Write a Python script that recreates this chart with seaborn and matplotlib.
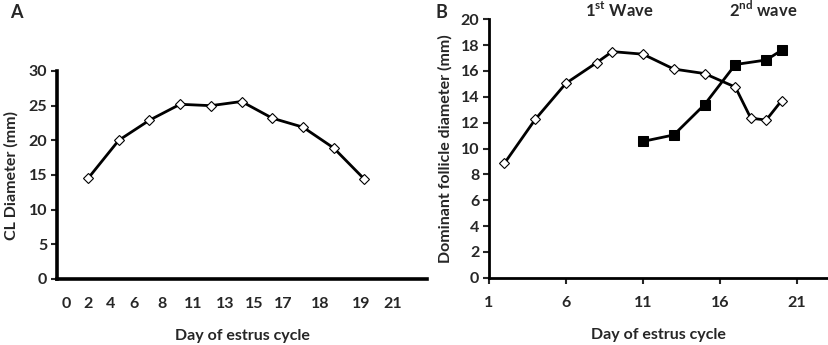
import matplotlib
matplotlib.use("Agg")
import matplotlib.pyplot as plt
import seaborn as sns

# panel A - CL diameter
a_diam = [14.5, 20.0, 22.9, 25.2, 25.0, 25.6, 23.2, 21.9, 18.9, 14.4]
a_ticklabels = ["0", "2", "4", "6", "8", "11", "13", "15", "17", "18", "19", "21"]
# where the (hand placed) labels sit, in point-index units
a_tickpos = [-0.72, 0, 0.75, 1.5, 2.41, 3.42, 4.46, 5.41, 6.35, 7.56, 8.89, 9.93]

# panel B - dominant follicle, two waves
b1_days = [2, 4, 6, 8, 9, 11, 13, 15, 17, 18, 19, 20]
b1_diam = [8.85, 12.25, 15.05, 16.65, 17.5, 17.3, 16.15, 15.8, 14.75, 12.35, 12.2, 13.7]
b2_days = [11, 13, 15, 17, 19, 20]
b2_diam = [10.55, 11.05, 13.4, 16.5, 16.85, 17.6]

sns.set_style("white")
plt.rcParams["font.family"] = ["Lato", "DejaVu Sans"]
plt.rcParams["font.weight"] = "bold"
plt.rcParams["mathtext.fontset"] = "custom"
plt.rcParams["mathtext.rm"] = "Lato:bold"
plt.rcParams["mathtext.bf"] = "Lato:bold"

W, H = 829, 345
fig = plt.figure(figsize=(W / 100, H / 100), dpi=100)

axA = fig.add_axes([57 / W, 66 / H, 370 / W, 208 / H])
axB = fig.add_axes([489 / W, 67.3 / H, 338 / W, 258.4 / H])

line_kw = dict(color="black", linewidth=2.0)

sns.lineplot(x=list(range(len(a_diam))), y=a_diam, ax=axA, marker="D",
             markersize=5, markerfacecolor="white", markeredgecolor="black",
             markeredgewidth=0.8, **line_kw)
axA.set_xlim(-1.01, 11.04)
axA.set_ylim(0, 30)
axA.set_yticks(range(0, 31, 5))
axA.set_xticks(a_tickpos)
axA.set_xticklabels(a_ticklabels)
axA.set_ylabel("CL Diameter (mm)", fontsize=11.5, fontweight="bold", labelpad=7)
axA.set_xlabel("Day of estrus cycle", fontsize=11.5, fontweight="bold", labelpad=13)

sns.lineplot(x=b1_days, y=b1_diam, ax=axB, marker="D", markersize=5,
             markerfacecolor="white", markeredgecolor="black",
             markeredgewidth=0.8, **line_kw)
sns.lineplot(x=b2_days, y=b2_diam, ax=axB, marker="s", markersize=6.5,
             markerfacecolor="black", markeredgecolor="black", **line_kw)
axB.set_xlim(1, 22.95)
axB.set_ylim(0, 20)
axB.set_yticks(range(0, 21, 2))
axB.set_xticks([1, 6, 11, 16, 21])
axB.set_ylabel("Dominant follicle diameter (mm)", fontsize=11.5, fontweight="bold", labelpad=6)
axB.set_xlabel("Day of estrus cycle", fontsize=11.5, fontweight="bold", labelpad=13)

axB.text(9.5, 20.7, r"1$^{\mathbf{st}}$ Wave", ha="center", va="center",
         fontsize=12, fontweight="bold", clip_on=False)
axB.text(18.8, 20.7, r"2$^{\mathbf{nd}}$ wave", ha="center", va="center",
         fontsize=12, fontweight="bold", clip_on=False)

for ax, lw in ((axA, 2.6), (axB, 2.0)):
    sns.despine(ax=ax)
    for s in ("left", "bottom"):
        ax.spines[s].set_linewidth(lw)
        ax.spines[s].set_color("black")
    ax.tick_params(axis="y", direction="out", length=4, width=1.5, left=True,
                   labelsize=11.5, pad=3)
    ax.tick_params(axis="x", length=0, labelsize=11.5, pad=13)
    for t in ax.get_xticklabels() + ax.get_yticklabels():
        t.set_fontweight("bold")

axB.tick_params(axis="x", direction="out", length=4, width=1.5, bottom=True, pad=9)

fig.text(10 / W, 1 - 12 / H, "A", fontsize=13, fontweight="bold", va="center")
fig.text(436 / W, 1 - 12 / H, "B", fontsize=13, fontweight="bold", va="center")

fig.savefig("out.png", dpi=100, facecolor="white")
